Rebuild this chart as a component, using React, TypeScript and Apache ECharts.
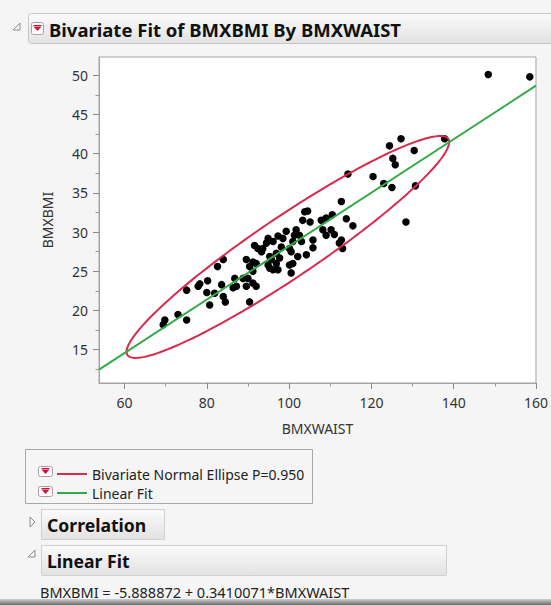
import React, { useEffect, useRef } from "react";
import * as echarts from "echarts";

// [BMXWAIST, BMXBMI] pairs
const points: [number, number][] = [
  [69.8, 18.8], [69.4, 18.2], [73.0, 19.5], [75.1, 18.8], [75.1, 22.6],
  [77.9, 23.1], [78.3, 23.4], [80.2, 23.8], [80.0, 22.3], [80.7, 20.7],
  [81.9, 22.2], [82.6, 25.6], [84.0, 26.5], [83.6, 23.3], [84.0, 21.8],
  [84.5, 21.1], [86.4, 22.9], [86.8, 24.1], [87.2, 23.1], [88.8, 24.1],
  [90.0, 24.1], [89.6, 23.1], [91.2, 23.5], [92.0, 23.1], [90.4, 21.1],
  [89.6, 26.5], [90.4, 25.6], [91.2, 25.0], [91.2, 26.2], [92.0, 26.0],
  [91.6, 28.3], [93.3, 27.5], [92.4, 27.9], [93.6, 27.9], [94.5, 28.6],
  [94.9, 29.2], [96.1, 28.8], [95.3, 26.9], [95.7, 26.5], [94.9, 25.8],
  [95.3, 25.4], [96.1, 25.2], [96.9, 26.0], [97.3, 25.2], [96.9, 27.3],
  [97.7, 26.7], [98.1, 28.1], [97.3, 29.5], [98.5, 29.2], [99.3, 30.1],
  [100.1, 27.9], [100.5, 27.5], [100.1, 25.8], [100.9, 26.0], [100.5, 24.8],
  [100.9, 28.8], [101.7, 30.3], [101.3, 29.6], [102.5, 29.6], [103.0, 28.8],
  [102.1, 26.9], [104.2, 27.1], [103.3, 31.5], [103.8, 32.6], [104.5, 32.7],
  [105.1, 31.3], [105.8, 29.0], [105.8, 28.0], [107.8, 31.5], [109.0, 31.8],
  [110.5, 32.2], [113.9, 31.7], [115.5, 30.8], [108.2, 30.3], [110.2, 30.3],
  [109.0, 29.6], [111.0, 29.7], [112.2, 28.6], [113.0, 27.9], [112.7, 29.0],
  [112.7, 33.9], [114.3, 37.4], [120.4, 37.1], [123.0, 36.2], [125.0, 35.7],
  [130.7, 35.9], [124.4, 41.0], [127.2, 41.9], [130.4, 40.4], [125.2, 39.4],
  [125.8, 38.6], [137.8, 41.9], [128.4, 31.3], [148.4, 50.1], [158.5, 49.8],
];

const xTicks = [60, 80, 100, 120, 140, 160];
const xMinorTicks = [70, 90, 110, 130, 150];
const yTicks = [15, 20, 25, 30, 35, 40, 45, 50];
const yMinorTicks = [12.5, 17.5, 22.5, 27.5, 32.5, 37.5, 42.5, 47.5];
const X_RANGE = [53.8, 160];
const Y_RANGE = [10.76, 52.33];

// Linear fit coefficients (from the report)
const FIT_INTERCEPT = -5.888872;
const FIT_SLOPE = 0.3410071;

// Bivariate normal ellipse (P = 0.950) parameters
const ELLIPSE_CENTER = [99.7, 28.11];
const ELLIPSE_HALF_X = 39.2;
const ELLIPSE_HALF_Y = 14.15;
const ELLIPSE_CORR = 0.9447;

const ELLIPSE_NAME = "Bivariate Normal Ellipse P=0.950";
const FIT_NAME = "Linear Fit";
const EQUATION = "BMXBMI = -5.888872 + 0.3410071*BMXWAIST";

const FONT = "'Noto Sans', 'DejaVu Sans', sans-serif";
const RED = "#d8294f";
const GREEN = "#33aa48";

function ellipsePoints(): [number, number][] {
  const out: [number, number][] = [];
  const s = Math.sqrt(1 - ELLIPSE_CORR * ELLIPSE_CORR);
  for (let i = 0; i <= 240; i++) {
    const t = (2 * Math.PI * i) / 240;
    out.push([
      ELLIPSE_CENTER[0] + ELLIPSE_HALF_X * Math.cos(t),
      ELLIPSE_CENTER[1] + ELLIPSE_HALF_Y * (ELLIPSE_CORR * Math.cos(t) + s * Math.sin(t)),
    ]);
  }
  return out;
}

const headerGrad = {
  type: "linear", x: 0, y: 0, x2: 0, y2: 1,
  colorStops: [{ offset: 0, color: "#fbfbfb" }, { offset: 1, color: "#e2e2e2" }],
};

function dropIcon(x: number, y: number, w: number, h: number) {
  const cx = x + w / 2;
  return [
    { type: "rect", shape: { x, y, width: w, height: h, r: 2 }, style: { fill: "#ffffff", stroke: "#b49aa0", lineWidth: 1 } },
    { type: "polygon", shape: { points: [[cx - 4, y + h / 2 - 2], [cx + 4, y + h / 2 - 2], [cx, y + h / 2 + 2.5]] }, style: { fill: "#cc1236" } },
    { type: "line", shape: { x1: cx - 4, y1: y + h / 2 - 3, x2: cx + 4, y2: y + h / 2 - 3 }, style: { stroke: "#cc1236", lineWidth: 1 } },
  ];
}

export default function App() {
  const ref = useRef<HTMLDivElement>(null);
  useEffect(() => {
    const chart = echarts.init(ref.current!, null, { renderer: "svg", width: 551, height: 605 });
    const fitData: [number, number][] = X_RANGE.map((x) => [x, FIT_INTERCEPT + FIT_SLOPE * x]);
    const axisText = { fontFamily: FONT, fontSize: 14, color: "#333" };
    chart.setOption({
      animation: false,
      backgroundColor: "#f5f5f5",
      grid: {
        left: 99, right: 14, top: 57, bottom: 222,
        show: true, backgroundColor: "#ffffff", borderColor: "#a4a4a4", borderWidth: 1,
      },
      xAxis: [
        {
          type: "value", min: X_RANGE[0], max: X_RANGE[1], position: "bottom",
          name: "BMXWAIST", nameLocation: "middle", nameGap: 38, nameTextStyle: axisText,
          axisLine: { show: true, lineStyle: { color: "#a4a4a4" } },
          axisTick: { show: true, customValues: xTicks, length: 6, lineStyle: { color: "#888" } },
          axisLabel: { customValues: xTicks, margin: 12, ...axisText },
          splitLine: { show: false },
        },
        {
          type: "value", min: X_RANGE[0], max: X_RANGE[1], position: "bottom",
          axisLine: { show: false },
          axisTick: { show: true, customValues: xMinorTicks, length: 3.5, lineStyle: { color: "#999" } },
          axisLabel: { show: false },
          splitLine: { show: false },
        },
      ],
      yAxis: [
        {
          type: "value", min: Y_RANGE[0], max: Y_RANGE[1], position: "left",
          name: "BMXBMI", nameLocation: "middle", nameGap: 45, nameTextStyle: axisText,
          axisLine: { show: true, lineStyle: { color: "#a4a4a4" } },
          axisTick: { show: true, customValues: yTicks, length: 6, lineStyle: { color: "#888" } },
          axisLabel: { customValues: yTicks, margin: 11, ...axisText },
          splitLine: { show: false },
        },
        {
          type: "value", min: Y_RANGE[0], max: Y_RANGE[1], position: "left",
          axisLine: { show: false },
          axisTick: { show: true, customValues: yMinorTicks, length: 3.5, lineStyle: { color: "#999" } },
          axisLabel: { show: false },
          splitLine: { show: false },
        },
      ],
      legend: {
        orient: "vertical", left: 52, top: 462, itemWidth: 30, itemHeight: 2, itemGap: 5,
        icon: "rect", selectedMode: false,
        textStyle: { fontFamily: FONT, fontSize: 14, color: "#222" },
        data: [ELLIPSE_NAME, FIT_NAME],
      },
      series: [
        {
          type: "scatter", data: points, symbolSize: 7.5, z: 2,
          itemStyle: { color: "#000", opacity: 1 },
        },
        {
          name: ELLIPSE_NAME, type: "line", data: ellipsePoints(), showSymbol: false, z: 3,
          lineStyle: { color: RED, width: 2 }, itemStyle: { color: RED },
        },
        {
          name: FIT_NAME, type: "line", data: fitData, showSymbol: false, z: 4,
          lineStyle: { color: GREEN, width: 2 }, itemStyle: { color: GREEN },
        },
      ],
      graphic: [
        // title bar
        { type: "rect", shape: { x: 28.5, y: 13.5, width: 540, height: 30, r: 3 }, style: { fill: headerGrad, stroke: "#c6c6c6" } },
        { type: "polygon", shape: { points: [[20, 23], [20, 30], [13, 30]] }, style: { fill: "none", stroke: "#8c8c8c", lineWidth: 1 } },
        ...dropIcon(31.5, 22.5, 12, 12),
        { type: "text", x: 49, y: 29, style: { text: "Bivariate Fit of BMXBMI By BMXWAIST", fontFamily: FONT, fontWeight: "bold", fontSize: 18.5, fill: "#111", verticalAlign: "middle" } },
        // legend box
        { type: "rect", shape: { x: 25.5, y: 449.5, width: 287, height: 54 }, style: { fill: "none", stroke: "#a8a8a8" } },
        ...dropIcon(38.5, 466.5, 14, 10),
        ...dropIcon(38.5, 486.5, 14, 10),
        // Correlation header
        { type: "polygon", shape: { points: [[30, 517], [35, 522], [30, 527]] }, style: { fill: "none", stroke: "#8c8c8c", lineWidth: 1 } },
        { type: "rect", shape: { x: 41.5, y: 509.5, width: 123, height: 30 }, style: { fill: headerGrad, stroke: "#d0d0d0" } },
        { type: "text", x: 47, y: 525, style: { text: "Correlation", fontFamily: FONT, fontWeight: "bold", fontSize: 17.6, fill: "#111", verticalAlign: "middle" } },
        // Linear Fit header
        { type: "polygon", shape: { points: [[35, 550], [35, 557], [28, 557]] }, style: { fill: "none", stroke: "#8c8c8c", lineWidth: 1 } },
        { type: "rect", shape: { x: 41.5, y: 545.5, width: 405, height: 30 }, style: { fill: headerGrad, stroke: "#d0d0d0" } },
        { type: "text", x: 47, y: 561, style: { text: "Linear Fit", fontFamily: FONT, fontWeight: "bold", fontSize: 17.6, fill: "#111", verticalAlign: "middle" } },
        { type: "text", x: 40, y: 592, style: { text: EQUATION, fontFamily: FONT, fontSize: 14.5, fill: "#222", verticalAlign: "middle" } },
        // bottom shadow
        { type: "rect", shape: { x: 0, y: 599, width: 551, height: 6 }, style: { fill: { type: "linear", x: 0, y: 0, x2: 0, y2: 1, colorStops: [{ offset: 0, color: "#d0d0d0" }, { offset: 1, color: "#6a6a6a" }] } } },
      ],
    });
    return () => chart.dispose();
  }, []);
  return <div ref={ref} style={{ position: "fixed", left: 0, top: 0, width: 551, height: 605 }} />;
}
